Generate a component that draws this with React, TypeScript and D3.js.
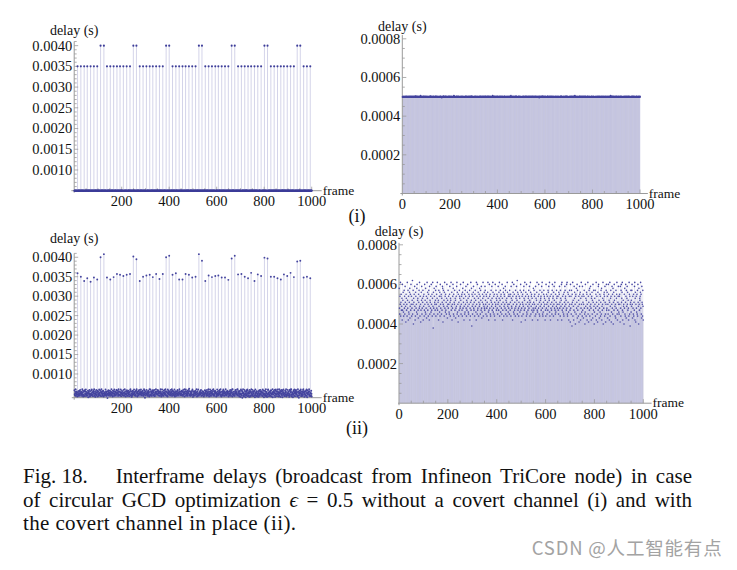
import React, { useLayoutEffect, useRef } from 'react';
import * as d3 from 'd3';

// ---------------- DATA ----------------
// frames carrying a long (covert-slot) delay
const highFrames = [
  14, 28, 42, 55, 69, 83, 97, 111, 125,
  138, 152, 166, 180, 193, 207, 221, 235, 249, 262,
  276, 290, 304, 318, 331, 345, 359, 373, 387, 400,
  414, 428, 442, 456, 469, 483, 497, 511, 525, 538,
  552, 566, 580, 594, 607, 621, 635, 649, 663, 676,
  690, 704, 718, 732, 745, 759, 773, 787, 801, 814,
  828, 842, 856, 870, 883, 897, 911, 925, 939, 952,
  966, 980, 994,
];
// (i) long delays (s)
const highDelaysI = [
  0.0035, 0.0035, 0.0035, 0.0035, 0.0035, 0.0035, 0.0035, 0.0040, 0.0040,
  0.0035, 0.0035, 0.0035, 0.0035, 0.0035, 0.0035, 0.0035, 0.0035, 0.0040, 0.0040,
  0.0035, 0.0035, 0.0035, 0.0035, 0.0035, 0.0035, 0.0035, 0.0035, 0.0040, 0.0040,
  0.0035, 0.0035, 0.0035, 0.0035, 0.0035, 0.0035, 0.0035, 0.0035, 0.0040, 0.0040,
  0.0035, 0.0035, 0.0035, 0.0035, 0.0035, 0.0035, 0.0035, 0.0035, 0.0040, 0.0040,
  0.0035, 0.0035, 0.0035, 0.0035, 0.0035, 0.0035, 0.0035, 0.0035, 0.0040, 0.0040,
  0.0035, 0.0035, 0.0035, 0.0035, 0.0035, 0.0035, 0.0035, 0.0035, 0.0040, 0.0040,
  0.0035, 0.0035, 0.0035,
];
// (ii) long delays (s)
const highDelaysII = [
  0.00359, 0.00350, 0.00339, 0.00346, 0.00337, 0.00348, 0.00343, 0.00400, 0.00408,
  0.00348, 0.00343, 0.00349, 0.00357, 0.00355, 0.00352, 0.00355, 0.00357, 0.00402, 0.00395,
  0.00339, 0.00350, 0.00353, 0.00355, 0.00349, 0.00357, 0.00344, 0.00357, 0.00400, 0.00404,
  0.00355, 0.00359, 0.00343, 0.00343, 0.00357, 0.00355, 0.00348, 0.00350, 0.00408, 0.00391,
  0.00339, 0.00353, 0.00349, 0.00352, 0.00353, 0.00348, 0.00348, 0.00342, 0.00397, 0.00404,
  0.00356, 0.00357, 0.00350, 0.00346, 0.00360, 0.00339, 0.00356, 0.00352, 0.00399, 0.00397,
  0.00350, 0.00350, 0.00346, 0.00343, 0.00356, 0.00352, 0.00360, 0.00349, 0.00389, 0.00391,
  0.00348, 0.00350, 0.00346,
];
// (i) short delays per frame 1..1000, digit d -> 0.000490 + d * 0.000002 s
const shortCodesI = [
  '5465455645 4556546455 6545465546 5456554645 4655465456',
  '5546475456 4565546545 5645548455 4655456546 5465545654',
  '6545546455 5464556475 4556545465 5645455646 4556546545',
  '5456545564 6545436554 5574654556 4655465454 5645564655',
  '4565456545 5465548456 6545455646 4556546545 5465455645',
  '5645465545 4556564546 5465545456 6455465547 4565456455',
  '5546455645 6545456454 4565546565 5456455645 5645565456',
  '4655456546 5465546455 5645455648 4556546545 6545465456',
  '5465455465 4655465546 5546545456 6455456545 4565545654',
  '5645548455 5465455645 4556465546 5645545456 6545465455',
  '4556545465 5645456546 5465545645 4655465456 5546455645',
  '6545465546 4565455645 5456536455 5645465547 4556545465',
  '5465545456 6455465546 4556545645 5645456455 5465546545',
  '4655456545 5546465456 6545455645 4556546546 5645465455',
  '5456545465 6545465546 4565586455 5645455645 4556465456',
  '5546455645 4655465546 5465545456 6545456455 4556546545',
  '5645465545 4556545465 5465546455 6455465546 5546455645',
  '4565456545 5645546455 5465485646 4556546545 6545465456',
  '5465545645 4655456546 5546545455 5645465546 4556545465',
  '6545465455 5465546546 4565455645 5546456545 5645465546',
];
// (ii) short delays per frame 1..1000, letter a..z -> 0.00038 + k * 0.00001 s
const shortCodesII = [
  'ukhqmxgnrj lpewjosigm tkqhvnldrp jmgxokteqi hnsuflrjwm',
  'qgkoyhmtcp nrjvlegsqk miuwhopjfr ntkxlgqmdj sovhkpnteq',
  'lrgjwmoiuh kqfnxpsjmg rtlevhonkq iwmjrgpxla skhuqnmjot',
  'gvmrkpxjhn oetlqisgwm kqrhpjnvud mtlogsxkqi rjnhpwlfom',
  'tkqmihrvng poxjlsemkq wuhrgnmtjp ofkqlvxhsi mdrgnjtqpk',
  'lwohmqrjgs ukxnpelrhi tmqvkgojns wlpihrmqte kgnxjoubrl',
  'hqmsvkjnpg rtloiexmqh wjkspgnrlu mqhtojvkfi nrpxgmqlsk',
  'jvtomhrqkg nlsxpiejmw qkrhgotnlv pjmxsikqhr gnewlmtpjo',
  'rkqhmvnjsp xglotiqrkm hwpejnsugl rqmkvthojn pgxslmiqkr',
  'mhtqjnrgvp lkoxeqsmiw hrjnkgtlpq vmoyhsjrkg nqlpitmwjd',
  'skgqnrmhlt vpjoxkeqsm gwihrnljpq tkmvognxsh lqrjpemiku',
  'njtqmrgkvh plosxjiemq kwrhngtlop qjmvsxkhgi nrtlqpmeoj',
  'gwkrmhqnjt slvpoxigqe mkrjnhtwlp qgsmvokxjh rinltpqmke',
  'qjhsmrvkng tplowexjmq ikrhgsnlvt pqmojwkxhg snrielqtmj',
  'dwkqhtmbrn xgolejvpsi mcqrhuknwf tjlgoqdmvr hsepkxmiqg',
  'vjnrfmqtkh ciwlpgosre mkxhqdntju glrvmkepqs hofwnjtlci',
  'pmtgkrxenq hldsjvwmof kriqgnthue ljmpxcokrs qgvnhdmtwj',
  'ksqfmhwrjo enxglptqdi mvkrhucnsj woqlgmftkp rxhejnqvmi',
  'hqrmdvkgtw npsxjeiolm crkuhgnwqf tlpvmsjoke gxrhqbmnti',
  'oltwmfqkhr gnjvxepsdm qkirhtgwnl cumjpoqsxk rhfvnmgtle',
];
const yTicksLeft = [0.001, 0.0015, 0.002, 0.0025, 0.003, 0.0035, 0.004];
const yTicksRight = [0.0002, 0.0004, 0.0006, 0.0008];
const xTicksLeft = [200, 400, 600, 800, 1000];
const xTicksRight = [0, 200, 400, 600, 800, 1000];
const captionLines = [
  'Interframe delays (broadcast from Infineon TriCore node) in case',
  'of circular GCD optimization ',
  ' = 0.5 without a covert channel (i) and with',
  'the covert channel in place (ii).',
];

// ---------------- decode ----------------
const decodeDigits = (rows: string[]) =>
  rows.join('').replace(/\s/g, '').split('').map((c) => 0.00049 + Number(c) * 0.000002);
const decodeLetters = (rows: string[]) =>
  rows.join('').replace(/\s/g, '').split('').map((c) => 0.00038 + (c.charCodeAt(0) - 97) * 0.00001);

const shortI = decodeDigits(shortCodesI);
const shortII = decodeLetters(shortCodesII);
const withHigh = (base: number[], vals: number[]) => {
  const out = base.slice();
  highFrames.forEach((f, i) => { out[f - 1] = vals[i]; });
  return out;
};
const leftI = withHigh(shortI, highDelaysI);
const leftII = withHigh(shortII, highDelaysII);

const SERIF = '"Liberation Serif", "Times New Roman", Times, serif';
const AXIS = '#9a9a9a';
const PT = '#3d3d99';

type Cfg = {
  data: number[];
  xRange: [number, number];
  xExt: [number, number];
  yDomain: [number, number];
  yRange: [number, number];
  origin: number;
  yTicks: number[];
  yMinor: number;
  yMajor: number;
  xTicks: number[];
  yLabelBase: number;
  stemOpacity: number;
  r: number;
  ptColor: string;
};

function Plot({ c }: { c: Cfg }) {
  const x = d3.scaleLinear().domain([0, 1000]).range(c.xRange);
  const y = d3.scaleLinear().domain(c.yDomain).range(c.yRange);
  const ax = x(0);
  const ay = y(c.origin);
  const top = y(c.yDomain[1]);
  const fmt = d3.format('.4f');
  const xMinor = d3.range(50, 1001, 50);
  const yMinorVals = d3.range(
    Math.ceil((c.yDomain[0] + 1e-9) / c.yMinor) * c.yMinor,
    c.yDomain[1] + 1e-9,
    c.yMinor
  );
  return (
    <g>
      <g>
        {c.data.map((v, i) => (
          <line
            key={i}
            x1={x(i + 1)}
            x2={x(i + 1)}
            y1={ay}
            y2={y(v)}
            stroke={PT}
            strokeOpacity={c.stemOpacity}
            strokeWidth={1}
          />
        ))}
      </g>
      {/* axes */}
      <line x1={x(c.xExt[0])} x2={x(c.xExt[1])} y1={ay} y2={ay} stroke={AXIS} strokeWidth={1} />
      <line x1={ax} x2={ax} y1={ay + 2} y2={top} stroke={AXIS} strokeWidth={1} />
      {xMinor.map((t) => (
        <line key={'xm' + t} x1={x(t)} x2={x(t)} y1={ay} y2={ay - (t % 200 === 0 ? 4 : 2.5)} stroke={AXIS} strokeWidth={0.8} />
      ))}
      {yMinorVals.map((t) => {
        const major = Math.abs(t / c.yMajor - Math.round(t / c.yMajor)) < 1e-6;
        return (
          <line key={'ym' + t} x1={ax} x2={ax + (major ? 4 : 2.5)} y1={y(t)} y2={y(t)} stroke={AXIS} strokeWidth={0.8} />
        );
      })}
      {/* points */}
      <g>
        {c.data.map((v, i) => (
          <circle key={i} cx={x(i + 1)} cy={y(v)} r={c.r} fill={c.ptColor} />
        ))}
      </g>
      {/* labels */}
      {c.yTicks.map((t) => (
        <text key={'yl' + t} x={ax - 2} y={y(t)} dy="0.34em" textAnchor="end" fontFamily={SERIF} fontSize={14.5} fill="#111">
          {fmt(t)}
        </text>
      ))}
      {c.xTicks.map((t) => (
        <text key={'xl' + t} x={x(t)} y={ay + 15.3} textAnchor="middle" fontFamily={SERIF} fontSize={14.5} fill="#111">
          {t}
        </text>
      ))}
      <text x={ax} y={c.yLabelBase} textAnchor="middle" fontFamily={SERIF} fontSize={14} fill="#111">
        delay (s)
      </text>
      <text x={x(c.xExt[1]) + 1} y={ay + 4} fontFamily={SERIF} fontSize={13.5} fill="#111">
        frame
      </text>
    </g>
  );
}

const cfgTL: Cfg = {
  data: leftI, xRange: [74.2, 311.7], xExt: [-12, 1042],
  yDomain: [0.0005, 0.0041], yRange: [190.7, 41.5], origin: 0.0005,
  yTicks: yTicksLeft, yMinor: 0.0001, yMajor: 0.0005, xTicks: xTicksLeft,
  yLabelBase: 35, stemOpacity: 0.22, r: 1.05, ptColor: PT,
};
const cfgTR: Cfg = {
  data: shortI, xRange: [402.3, 640], xExt: [-8, 1033],
  yDomain: [0, 0.00082], yRange: [193.5, 193.5 - 0.00082 * 193375], origin: 0,
  yTicks: yTicksRight, yMinor: 0.00005, yMajor: 0.0002, xTicks: xTicksRight,
  yLabelBase: 30.5, stemOpacity: 0.08, r: 0.9, ptColor: '#44449e',
};
const cfgBL: Cfg = {
  data: leftII, xRange: [74.2, 311.7], xExt: [-10, 1042],
  yDomain: [0.00039, 0.0041], yRange: [397.7, 397.7 - (0.0041 - 0.00039) * 38900], origin: 0.00039,
  yTicks: yTicksLeft, yMinor: 0.0001, yMajor: 0.0005, xTicks: xTicksLeft,
  yLabelBase: 243.3, stemOpacity: 0.22, r: 0.95, ptColor: '#44449e',
};
const cfgBR: Cfg = {
  data: shortII, xRange: [399, 643.3], xExt: [-4, 1034],
  yDomain: [0, 0.00081], yRange: [403.2, 403.2 - 0.00081 * 198000], origin: 0,
  yTicks: yTicksRight, yMinor: 0.00005, yMajor: 0.0002, xTicks: xTicksRight,
  yLabelBase: 235.5, stemOpacity: 0.08, r: 0.8, ptColor: '#4a4aa4',
};

function Caption() {
  const r1 = useRef<SVGTextElement>(null);
  const r2 = useRef<SVGTextElement>(null);
  useLayoutEffect(() => {
    const just = (el: SVGTextElement | null, target: number) => {
      if (!el) return;
      const w = el.getComputedTextLength();
      const spaces = (el.textContent || '').split(' ').length - 1;
      if (spaces > 0) d3.select(el).attr('word-spacing', (target - w) / spaces);
    };
    just(r1.current, 692 - 115.7);
    just(r2.current, 692 - 23);
  }, []);
  const fs = 21;
  return (
    <g fontFamily={SERIF} fontSize={fs} fill="#111">
      <text x={23} y={483}>Fig. 18.</text>
      <text ref={r1} x={115.7} y={483}>{captionLines[0]}</text>
      <text ref={r2} x={23} y={506.5}>
        {captionLines[1]}
        <tspan fontStyle="italic">ϵ</tspan>
        {captionLines[2]}
      </text>
      <text x={23} y={530} textLength={273} lengthAdjust="spacing">{captionLines[3]}</text>
    </g>
  );
}

export default function App() {
  return (
    <svg
      width={737}
      height={570}
      style={{ position: 'absolute', left: 0, top: 0, background: '#fff' }}
    >
      <rect width={737} height={570} fill="#fff" />
      <Plot c={cfgTL} />
      <Plot c={cfgTR} />
      <Plot c={cfgBL} />
      <Plot c={cfgBR} />
      <text x={357} y={222} textAnchor="middle" fontFamily={SERIF} fontSize={18} fill="#111">(i)</text>
      <text x={357} y={434} textAnchor="middle" fontFamily={SERIF} fontSize={18} fill="#111">(ii)</text>
      <Caption />
      <text
        x={531.7}
        y={555}
        fontFamily='"Noto Sans CJK SC", "Noto Sans", sans-serif'
        fontSize={18.5}
        fill="#a3a3a3"
        textLength={190}
        lengthAdjust="spacing"
      >
        CSDN @人工智能有点
      </text>
    </svg>
  );
}
